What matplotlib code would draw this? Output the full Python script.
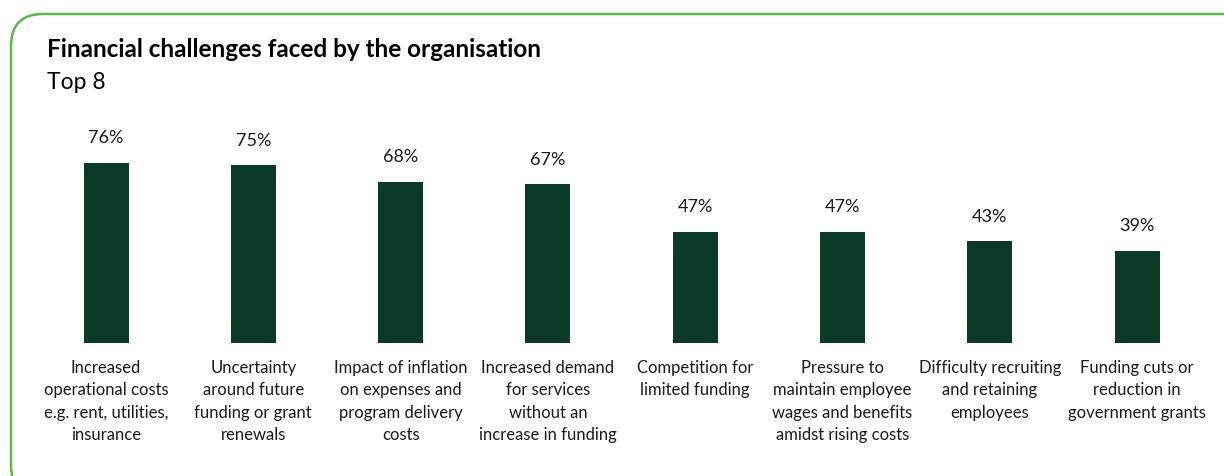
"""
Bar chart of the top financial challenges faced by organisations
"""
import matplotlib.pyplot as plt
from matplotlib.patches import FancyBboxPatch

plt.rcParams['font.family'] = ['Lato', 'DejaVu Sans']

# Survey results (share of organisations, %)
categories = [
    "Increased\noperational costs\ne.g. rent, utilities,\ninsurance",
    "Uncertainty\naround future\nfunding or grant\nrenewals",
    "Impact of inflation\non expenses and\nprogram delivery\ncosts",
    "Increased demand\nfor services\nwithout an\nincrease in funding",
    "Competition for\nlimited funding",
    "Pressure to\nmaintain employee\nwages and benefits\namidst rising costs",
    "Difficulty recruiting\nand retaining\nemployees",
    "Funding cuts or\nreduction in\ngovernment grants",
]
values = [76, 75, 68, 67, 47, 47, 43, 39]

title = "Financial challenges faced by the organisation"
subtitle = "Top 8"

BAR_COLOR = '#0b3a27'
BORDER_COLOR = '#5cb947'
TEXT_COLOR = '#1a1a1a'
W, H = 1224, 476

fig = plt.figure(figsize=(W / 100, H / 100), dpi=100)

# Background layer in pixel coordinates for the rounded frame and titles
bg = fig.add_axes([0, 0, 1, 1])
bg.set_xlim(0, W)
bg.set_ylim(H, 0)
bg.axis('off')
frame = FancyBboxPatch((11, 14), 1300, 483,
                       boxstyle="round,pad=0,rounding_size=32",
                       facecolor='white', edgecolor=BORDER_COLOR, linewidth=1.8)
bg.add_patch(frame)
bg.text(47, 57, title, fontsize=17.5, fontweight='bold', color='black', va='baseline')
bg.text(47, 89, subtitle, fontsize=16.5, color='black', va='baseline')

# Bar axes: bar centres land at ~106 px and spacing ~147 px
step = 147.3
first = 106
bottom_px, top_px = 343, 100
ax = fig.add_axes([0, (H - bottom_px) / H, 1, (bottom_px - top_px) / H])
ax.set_xlim(-first / step, (W - first) / step)
ax.set_ylim(0, (bottom_px - top_px) / 2.37)
ax.axis('off')

x = range(len(values))
bars = ax.bar(x, values, width=45 / step, color=BAR_COLOR)

for rect, v in zip(bars, values):
    ax.annotate(f"{v}%", (rect.get_x() + rect.get_width() / 2, v),
                xytext=(0, 14), textcoords='offset points',
                ha='center', va='baseline', fontsize=13, color=TEXT_COLOR)

for i, label in enumerate(categories):
    ax.annotate(label, (i, 0), xytext=(0, -12), textcoords='offset points',
                ha='center', va='top', fontsize=12, color=TEXT_COLOR,
                linespacing=1.5, annotation_clip=False)

fig.savefig("out.png", dpi=100)
